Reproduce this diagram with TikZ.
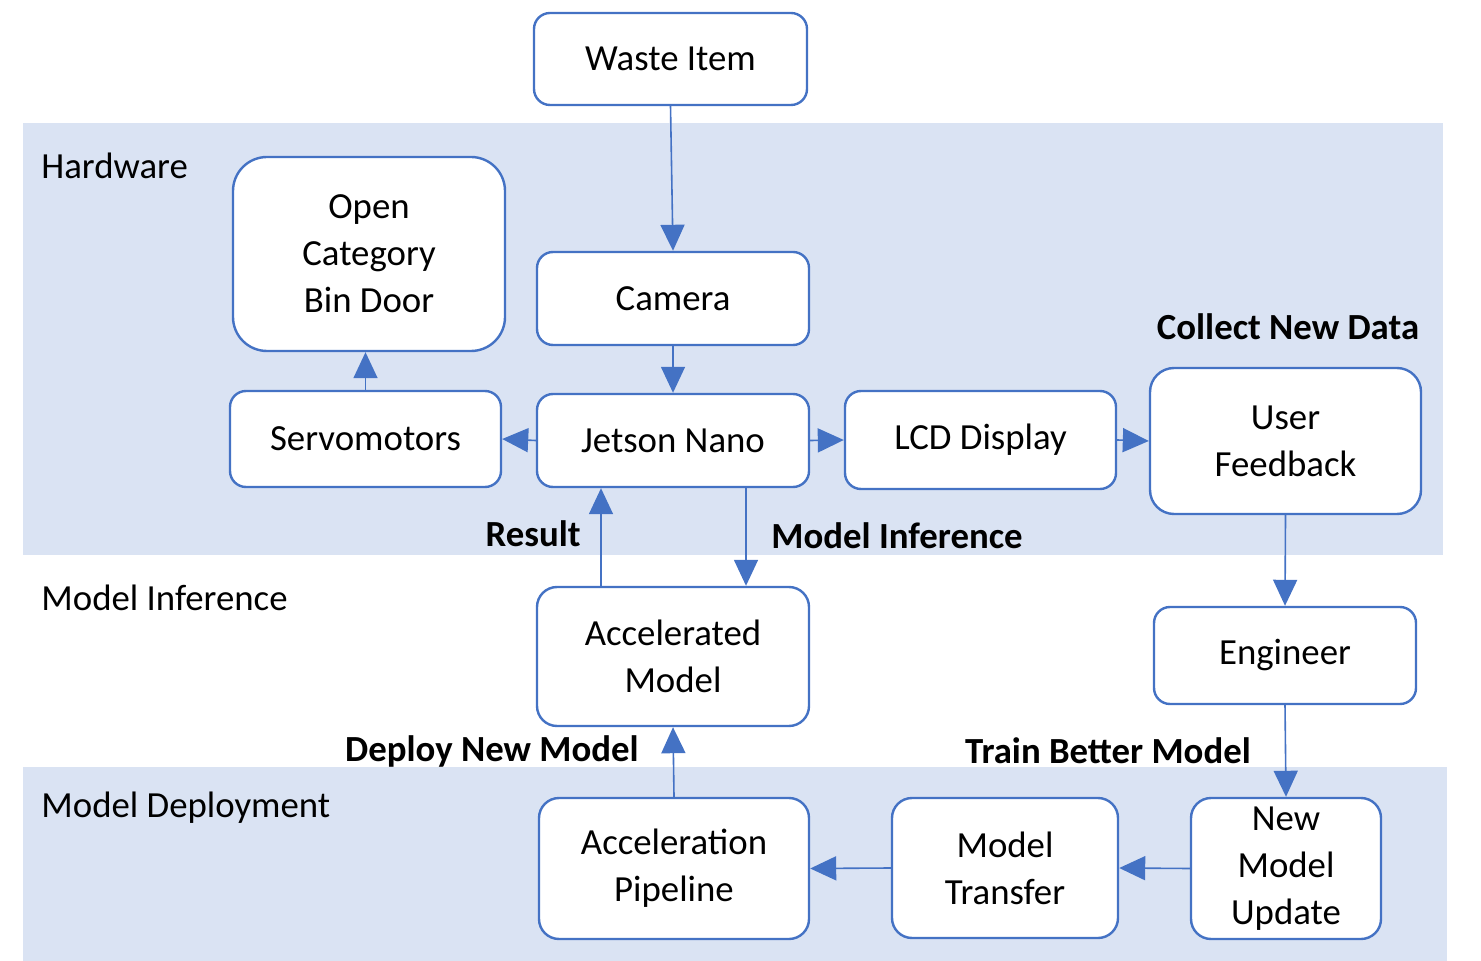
\documentclass[tikz,border=0pt]{standalone}
\usepackage{fontspec}
\setmainfont{Carlito}
\usepackage{tikz}
\usetikzlibrary{arrows.meta}
\definecolor{bandblue}{HTML}{DAE3F3}
\definecolor{lineblue}{HTML}{4472C4}

\begin{document}
\begin{tikzpicture}[x=0.5pt, y=-0.5pt,
		box/.style={draw=lineblue, line width=1.2pt, fill=white, rounded corners=8pt, align=center, inner sep=0pt, font=\fontsize{18.4}{23.5}\selectfont},
		flow/.style={draw=lineblue, line width=0.8pt, -{Triangle[width=12pt, length=13pt]}},
		tag/.style={inner sep=0pt, font=\fontsize{18.4}{23.5}\selectfont\bfseries},
		zone/.style={inner sep=0pt, anchor=west, font=\fontsize{18.4}{23.5}\selectfont}]
		\useasboundingbox (0,0) rectangle (1481,961);
		\fill[bandblue] (23,123) rectangle (1443,555);
		\fill[bandblue] (23,767) rectangle (1447,961);
		\node[zone] (hardware) at (41,166) {Hardware};
		\node[zone] (inference) at (41,598) {Model Inference};
		\node[zone] (deployment) at (41,808) {Model Deployment};
		\node[box, minimum width=136.5pt, minimum height=46pt] (waste) at (670.5,59) {Waste Item};
		\node[box, minimum width=136pt, minimum height=46.5pt] (camera) at (673,298.5) {Camera};
		\node[box, minimum width=136pt, minimum height=97pt, rounded corners=17pt] (door) at (369,254) {Open\\Category\\Bin Door};
		\node[box, minimum width=135.5pt, minimum height=48pt] (servo) at (365.5,439) {Servomotors};
		\node[box, minimum width=136pt, minimum height=46.5pt] (jetson) at (673,440.5) {Jetson Nano};
		\node[box, minimum width=135.5pt, minimum height=49pt] (lcd) at (980.5,440) {LCD Display};
		\node[box, minimum width=135.5pt, minimum height=73pt, rounded corners=12pt] (feedback) at (1285.5,441) {User\\Feedback};
		\node[box, minimum width=136pt, minimum height=69.5pt, rounded corners=10pt] (accmodel) at (673,656.5) {Accelerated\\Model};
		\node[box, minimum width=131pt, minimum height=48.5pt] (engineer) at (1285,655.5) {Engineer};
		\node[box, minimum width=135pt, minimum height=70.5pt, rounded corners=10pt] (pipeline) at (674,868.5) {Acceleration\\Pipeline};
		\node[box, minimum width=113pt, minimum height=70pt, rounded corners=10pt] (transfer) at (1005,868) {Model\\Transfer};
		\node[box, minimum width=95pt, minimum height=70.5pt, rounded corners=10pt] (update) at (1286,868.5) {New\\Model\\Update};
		\node[tag] (collect) at (1288,327) {Collect New Data};
		\node[tag, anchor=east] (result) at (581,534) {Result};
		\node[tag, anchor=west] (infer) at (771,536) {Model Inference};
		\node[tag, anchor=east] (deploy) at (639,751) {Deploy New Model};
		\node[tag] (train) at (1108,751) {Train Better Model};
		\draw[flow] (waste.south) -- (camera.north);
		\draw[flow] (camera.south) -- (jetson.north);
		\draw[flow] (jetson.west) -- (servo.east);
		\draw[flow] (servo.north) -- (servo.north |- door.south);
		\draw[flow] (jetson.east) -- (lcd.west);
		\draw[flow] (lcd.east) -- (feedback.west);
		\draw[flow] (feedback.south) -- (engineer.north);
		\draw[flow] (engineer.south) -- (update.north);
		\draw[flow] (update.west) -- (transfer.east);
		\draw[flow] (transfer.west) -- (pipeline.east);
		\draw[flow] (pipeline.north) -- (accmodel.south);
		\draw[flow] ([xshift=36.5pt]jetson.south) -- ([xshift=36.5pt]accmodel.north);
		\draw[flow] ([xshift=-36pt]accmodel.north) -- ([xshift=-36pt]jetson.south);
	\end{tikzpicture}
\end{document}
